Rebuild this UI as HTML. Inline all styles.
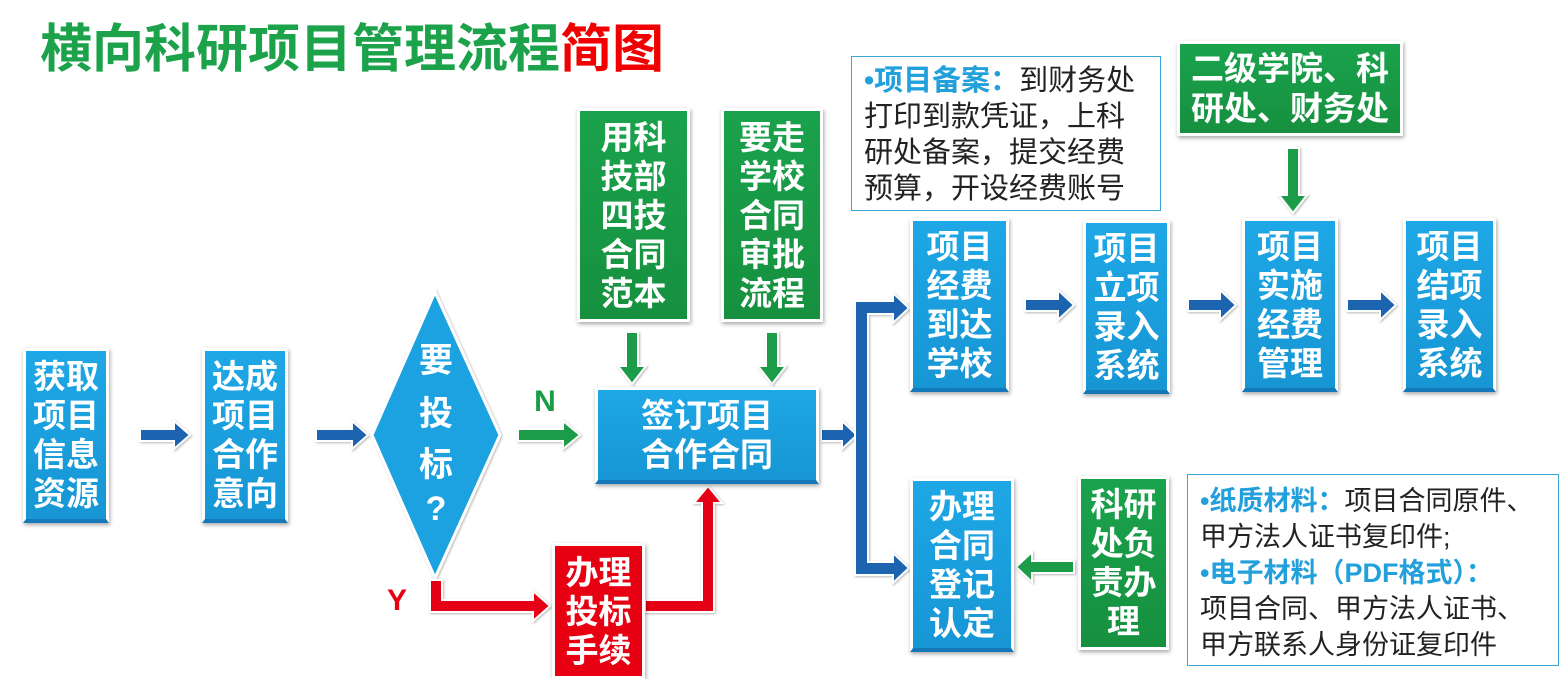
<!DOCTYPE html>
<html><head><meta charset="utf-8">
<style>
body{margin:0;width:1562px;height:679px;overflow:hidden;background:#fff;position:relative;font-family:"Liberation Sans","Noto Sans CJK SC",sans-serif;}
.b{position:absolute;box-sizing:border-box;color:#fff;font-weight:bold;font-size:33px;line-height:39px;text-align:center;display:flex;align-items:center;justify-content:center;border:3px solid #fff;box-shadow:1px 2px 4px rgba(0,0,0,.35);}
.bl{background:linear-gradient(#1ea7e6,#1796d4);border-bottom:4px solid #1578b8;}
.gr{background:linear-gradient(#1aa24c,#16903f);}
.rd{background:#e60012;}
.t{position:absolute;box-sizing:border-box;border:1.5px solid #3aa9d6;background:#fff;color:#222;}
.c{color:#22a0dc;font-weight:bold;}
svg{position:absolute;left:0;top:0;}
</style></head><body>
<div style="position:absolute;left:40px;top:18px;font-size:52px;font-weight:bold;color:#1ba24a;line-height:64px;letter-spacing:0px;">横向科研项目管理流程<span style="color:#f00000">简图</span></div>

<svg width="1562" height="679">
<defs>
<filter id="s"><feDropShadow dx="1" dy="1" stdDeviation="1" flood-color="#888" flood-opacity=".6"/></filter>
</defs>
<g filter="url(#s)" stroke="#fff" stroke-width="2">
<polygon points="435,292 500,435 435,578 372,435" fill="#1ea2e0" stroke-width="3"/>
<g fill="#1a64b0">
<polygon points="140,429 174,429 174,421 190,435 174,449 174,441 140,441"/>
<polygon points="316,429 352,429 352,421 368,435 352,449 352,441 316,441"/>
<polygon points="821,429 842,429 842,421 857,435 842,449 842,441 821,441"/>
<polygon points="1025,299 1058,299 1058,290 1074,305 1058,320 1058,311 1025,311"/>
<polygon points="1188,299 1220,299 1220,290 1236,305 1220,320 1220,311 1188,311"/>
<polygon points="1347,299 1380,299 1380,290 1396,305 1380,320 1380,311 1347,311"/>
<polygon points="855,301 893,301 893,293 909,308 893,323 893,314 868,314 868,562 893,562 893,553 909,568 893,583 893,575 855,575"/>
</g>
<g fill="#1a9c48">
<polygon points="518,429 563,429 563,421 580,435 563,449 563,441 518,441"/>
<polygon points="626,332 638,332 638,366 646,366 632,384 618,366 626,366"/>
<polygon points="766,332 778,332 778,366 786,366 772,384 758,366 766,366"/>
<polygon points="1287,148 1299,148 1299,195 1307,195 1293,213 1279,195 1287,195"/>
<polygon points="1074,561 1032,561 1032,552 1016,567 1032,582 1032,573 1074,573"/>
</g>
<g fill="#e60012">
<polygon points="430,580 442,580 442,600 533,600 533,591 550,606 533,621 533,612 430,612"/>
<polygon points="645,600 702,600 702,503 694,503 708,486 722,503 714,503 714,612 645,612"/>
</g>
</g>
<text x="545" y="411" font-family="Liberation Sans" font-weight="bold" font-size="30" fill="#1a9c48" text-anchor="middle">N</text>
<text x="397" y="610" font-family="Liberation Sans" font-weight="bold" font-size="30" fill="#e60012" text-anchor="middle">Y</text>
<text x="436" y="372" font-family="Liberation Sans,Noto Sans CJK SC,sans-serif" font-weight="bold" font-size="34" fill="#fff" text-anchor="middle">要</text>
<text x="436" y="425" font-family="Liberation Sans,Noto Sans CJK SC,sans-serif" font-weight="bold" font-size="34" fill="#fff" text-anchor="middle">投</text>
<text x="436" y="476" font-family="Liberation Sans,Noto Sans CJK SC,sans-serif" font-weight="bold" font-size="34" fill="#fff" text-anchor="middle">标</text>
<text x="436" y="520" font-family="Liberation Sans,Noto Sans CJK SC,sans-serif" font-weight="bold" font-size="34" fill="#fff" text-anchor="middle">?</text>
</svg>

<div class="b bl" style="left:23px;top:348px;width:86px;height:175px;">获取<br>项目<br>信息<br>资源</div>
<div class="b bl" style="left:202px;top:348px;width:86px;height:175px;">达成<br>项目<br>合作<br>意向</div>
<div class="b gr" style="left:577px;top:108px;width:113px;height:214px;">用科<br>技部<br>四技<br>合同<br>范本</div>
<div class="b gr" style="left:721px;top:108px;width:102px;height:214px;">要走<br>学校<br>合同<br>审批<br>流程</div>
<div class="b bl" style="left:595px;top:387px;width:224px;height:97px;">签订项目<br>合作合同</div>
<div class="b rd" style="left:552px;top:543px;width:93px;height:136px;">办理<br>投标<br>手续</div>

<div class="t" style="left:851px;top:56px;width:310px;height:155px;padding:6px 0 0 12px;font-size:29px;line-height:36px;"><span class="c">•项目备案：</span>到财务处<br>打印到款凭证，上科<br>研处备案，提交经费<br>预算，开设经费账号</div>
<div class="b gr" style="left:1177px;top:41px;width:226px;height:95px;line-height:40px;">二级学院、科<br>研处、财务处</div>

<div class="b bl" style="left:910px;top:218px;width:99px;height:174px;">项目<br>经费<br>到达<br>学校</div>
<div class="b bl" style="left:1083px;top:220px;width:87px;height:174px;">项目<br>立项<br>录入<br>系统</div>
<div class="b bl" style="left:1242px;top:218px;width:96px;height:174px;">项目<br>实施<br>经费<br>管理</div>
<div class="b bl" style="left:1403px;top:218px;width:93px;height:174px;">项目<br>结项<br>录入<br>系统</div>

<div class="b bl" style="left:910px;top:478px;width:104px;height:174px;">办理<br>合同<br>登记<br>认定</div>
<div class="b gr" style="left:1078px;top:476px;width:91px;height:174px;">科研<br>处负<br>责办<br>理</div>
<div class="t" style="left:1187px;top:474px;width:372px;height:192px;padding:8px 0 0 12px;font-size:27px;line-height:36px;white-space:nowrap;"><span class="c">•纸质材料：</span>项目合同原件、<br>甲方法人证书复印件;<br><span class="c">•电子材料（PDF格式）：</span><br>项目合同、甲方法人证书、<br>甲方联系人身份证复印件</div>
</body></html>
